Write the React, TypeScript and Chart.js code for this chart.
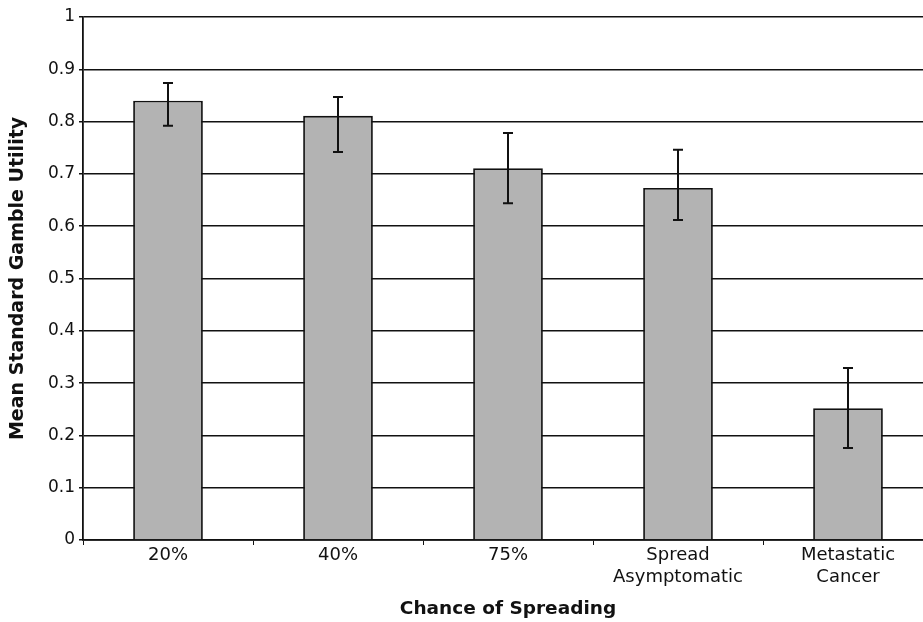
import React, { useEffect, useRef } from "react";
import { Chart, registerables } from "chart.js";

Chart.register(...registerables);

const categories: (string | string[])[] = ["20%", "40%", "75%", ["Spread", "Asymptomatic"], ["Metastatic", "Cancer"]];
const means = [0.84, 0.811, 0.711, 0.673, 0.252];
const errLow = [0.792, 0.742, 0.644, 0.612, 0.176];
const errHigh = [0.874, 0.847, 0.778, 0.746, 0.329];

const FONT = "'DejaVu Sans', Verdana, sans-serif";

const errorBarPlugin = {
  id: "errorBars",
  afterDatasetsDraw(chart: any) {
    const meta = chart.getDatasetMeta(0);
    const y = chart.scales.y;
    const ctx = chart.ctx;
    ctx.save();
    ctx.strokeStyle = "#111";
    ctx.lineWidth = 2;
    meta.data.forEach((bar: any, i: number) => {
      const x = bar.x;
      const yt = y.getPixelForValue(errHigh[i]);
      const yb = y.getPixelForValue(errLow[i]);
      const cap = 5;
      ctx.beginPath();
      ctx.moveTo(x, yt);
      ctx.lineTo(x, yb);
      ctx.moveTo(x - cap, yt);
      ctx.lineTo(x + cap, yt);
      ctx.moveTo(x - cap, yb);
      ctx.lineTo(x + cap, yb);
      ctx.stroke();
    });
    ctx.restore();
  },
};

export default function App() {
  const ref = useRef<HTMLCanvasElement | null>(null);
  useEffect(() => {
    document.body.style.margin = "0";
    document.body.style.overflow = "hidden";
    const chart = new Chart(ref.current!, {
      type: "bar",
      data: {
        labels: categories as any,
        datasets: [
          {
            data: means,
            backgroundColor: "#b3b3b3",
            borderColor: "#111",
            borderWidth: 1.8,
            barPercentage: 0.41,
            categoryPercentage: 1,
          },
        ],
      },
      options: {
        animation: false,
        responsive: false,
        layout: { padding: { top: 17, right: 2, left: 0, bottom: 0 } },
        plugins: { legend: { display: false }, tooltip: { enabled: false } },
        scales: {
          x: {
            afterFit(scale: any) {
              scale.height = 82;
            },
            grid: { drawOnChartArea: false, color: "#111", tickLength: 5, lineWidth: 1 },
            border: { color: "#111", width: 1.8 },
            ticks: { color: "#111", font: { family: FONT, size: 18 }, padding: 0, maxRotation: 0 },
            title: {
              display: true,
              text: "Chance of Spreading",
              color: "#111",
              font: { family: FONT, size: 18.5, weight: "bold" },
              padding: { top: 0, bottom: 2 },
            },
          },
          y: {
            min: 0,
            max: 1,
            afterFit(scale: any) {
              scale.width = 83;
            },
            grid: { color: "#111", lineWidth: 1.5, tickLength: 4 },
            border: { color: "#111", width: 1.8 },
            ticks: {
              stepSize: 0.1,
              color: "#111",
              font: { family: FONT, size: 17 },
              padding: 4,
              callback: (v: any) => String(Math.round(Number(v) * 10) / 10),
            },
            title: {
              display: true,
              text: "Mean Standard Gamble Utility",
              color: "#111",
              font: { family: FONT, size: 19, weight: "bold" },
              padding: { top: 7, bottom: 0 },
            },
          },
        },
      },
      plugins: [errorBarPlugin],
    });
    return () => chart.destroy();
  }, []);
  return (
    <div style={{ width: 923, height: 622, overflow: "hidden", background: "#fff" }}>
      <canvas ref={ref} width={935} height={622} style={{ display: "block" }} />
    </div>
  );
}
